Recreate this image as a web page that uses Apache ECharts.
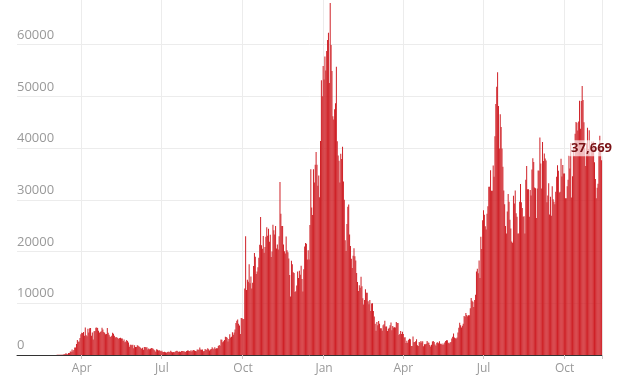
<!DOCTYPE html>
<html><head><meta charset="utf-8">
<script src="https://cdn.jsdelivr.net/npm/echarts@6/dist/echarts.min.js"></script>
<style>html,body{margin:0;padding:0;background:#fff}#c{width:625px;height:392px}</style>
</head><body><div id="c"></div>
<script>
// Daily cases, one array per month (first array starts on 2020-01-19)
const startDate = [2020, 0, 19];
const jan2020 = [0,0,0,0,0,0,0,0,0,0,0,0,2];
const feb2020 = [0,0,0,0,0,0,1,0,0,5,0,0,1,0,0,0,0,0,0,0,0,0,0,0,0,0,4,4,3];
const mar2020 = [13,4,11,34,30,48,43,67,48,61,74,130,200,340,250,150,400,410,680,650,1040,670,970,1430,1450,2130,2890,2550,2600,3300,4000];
const apr2020 = [4300,4250,4450,3740,5300,3800,3630,5100,4340,5150,5200,3700,4340,3000,4600,4620,5250,5300,5200,4670,4300,4450,4580,5250,4910,4460,4300,3990,4080,5200];
const may2020 = [4300,3900,3600,3500,3700,4300,4100,3700,3400,3500,3400,3300,3100,3300,3350,3200,3200,2700,3000,2450,2600,2900,2700,2400,1600,2000,2000,1900,2000,1300,1900];
const jun2020 = [1570,1570,1870,1800,1650,1560,1330,1200,1390,1000,1540,1540,1430,1510,1050,1280,1120,1220,1350,1300,1220,1000,880,650,1120,1000,890,900,820,690];
const jul2020 = [830,570,560,630,520,420,580,650,640,510,800,650,530,600,540,640,780,820,730,580,680,600,770,770,770,690,690,580,760,850,880];
const aug2020 = [760,740,940,670,890,950,870,760,730,1060,1000,1010,1440,1060,1020,1040,710,790,1180,1000,1030,1290,1110,850,1040,1180,1520,1270,1100,1500,1200];
const sep2020 = [1300,1300,1750,1940,1810,2990,2950,2460,2660,2920,3540,3500,3330,2620,3100,3990,3400,3540,4420,3900,4370,4930,6180,6630,6870,6040,5690,4040,7140,7110];
const oct2020 = [6910,6970,12870,22960,12590,14540,14160,17540,13860,15170,12870,13970,17230,19720,18980,15650,16170,16980,18800,21330,26690,21240,20530,23010,19790,20890,22890,24700,23070,24410,21920];
const nov2020 = [23250,18950,20020,25180,24140,23290,24960,20570,21350,20410,22950,33470,27300,24960,24960,21360,20050,19610,22920,20250,19880,18660,15450,11300,18210,17560,16020,15870,12160,12330];
const dec2020 = [13430,16170,14880,16300,15540,17270,14720,12280,16580,20960,21670,21500,18450,20260,18450,25160,35930,28510,27050,35930,33360,36800,39240,36800,32730,34690,30500,41390,53140,50020,55890];
const jan2021 = [53290,57730,54990,58780,60920,62320,52620,68053,59940,54940,46170,45530,47530,48680,55760,41350,38600,37540,33360,38910,37890,40260,33550,30000,22200,20090,25310,28680,29080,23280,21090];
const feb2021 = [18610,16840,19200,20630,19110,18260,15850,14100,12360,13490,13010,15140,13310,10970,9770,10630,12720,12060,12030,10410,9830,10640,8490,9940,9990,8520,7430,6040];
const mar2021 = [4710,6390,5770,6570,6040,5180,5180,4710,5770,5930,6610,5530,5530,4620,5090,5290,5760,6300,4800,5590,5310,5380,5340,6400,6190,6190,3860,4040,4650,4050,4480];
const apr2021 = [4050,3400,3420,2300,2760,2380,2960,3150,3030,1730,1730,3570,2470,2490,2670,3030,1880,1730,2520,2400,2730,2400,2680,1710,2060,2060,2170,2690,2410,2380];
const may2021 = [1950,1650,1980,2610,2700,2490,2050,1770,2360,2470,2280,2660,2190,2190,1930,2240,1980,2410,2700,2870,2830,2370,2240,2440,2490,3180,3540,4180,3400,3240,3170];
const jun2021 = [3380,4330,5270,6240,5770,5340,5680,6050,7540,7390,8130,7740,7490,7670,7670,9060,11010,10480,10320,9280,10630,11630,16140,16700,15810,18270,14880,22870,20480,26070];
const jul2021 = [27990,27130,24890,24250,27330,28770,32550,32550,35710,31770,31770,36660,34470,42300,48550,51870,54670,48160,39950,46560,44100,39910,36390,31800,29170,24950,23510,27730,31120,29620,26140];
const aug2021 = [24470,21950,21690,30790,29310,31810,27430,26750,23510,23510,29610,33070,29520,28440,26750,26850,23510,33900,36570,32060,32060,26750,31910,30840,35850,38050,37310,32410,32250,26480,32180];
const sep2021 = [35690,35620,42080,37010,32180,41190,37490,38980,38010,37620,29550,30830,33200,27170,30600,26910,32650,30140,29610,29170,31560,34460,36710,35620,31440,31560,37960,34530,36720,35080];
const oct2021 = [35080,30300,30300,32650,33870,38520,36060,41000,30440,34570,40220,38520,42780,45070,44930,43420,45140,49160,43740,49140,52010,49300,44990,39960,36570,40950,43940,39840,43470,38520,39960];
const nov2021 = [41280,40080,41300,37270,34030,30310,32320,33120,39330,42410,40380,37669];

const tickMonthLabels = {'01':'Jan','04':'Apr','07':'Jul','10':'Oct'};
const yMin = 0, yMax = 70000, yInterval = 10000;

const cases = [].concat(jan2020,feb2020,mar2020,apr2020,may2020,jun2020,jul2020,aug2020,sep2020,oct2020,nov2020,dec2020,
  jan2021,feb2021,mar2021,apr2021,may2021,jun2021,jul2021,aug2021,sep2021,oct2021,nov2021);

const t0 = Date.UTC(startDate[0], startDate[1], startDate[2]);
const dates = cases.map((_, i) => new Date(t0 + i * 864e5).toISOString().slice(0, 10));
const isTick = (idx) => { const s = dates[idx]; return s.slice(8) === '01' && (s.slice(5,7) in tickMonthLabels); };

const font = 'Open Sans';
const seriesData = cases.map((v, i) => i === cases.length - 1 ? {
  value: v,
  label: {
    show: true, position: 'top', distance: 4, offset: [-10, 0],
    color: '#7a1216', fontWeight: 'bold', fontSize: 13, fontFamily: font,
    backgroundColor: 'rgba(255,255,255,0.65)', padding: [2, 2, 1, 2],
    formatter: p => p.value.toLocaleString('en-US')
  }
} : v);

const chart = echarts.init(document.getElementById('c'), null, {renderer: 'canvas'});
chart.setOption({
  animation: false,
  backgroundColor: '#fff',
  grid: {left: 17, right: 23, top: -7, bottom: 37, containLabel: false, outerBoundsMode: 'none'},
  xAxis: {
    type: 'category', data: dates, boundaryGap: true,
    axisLine: {show: true, lineStyle: {color: '#333', width: 1}},
    axisTick: {show: true, interval: isTick, length: 4, lineStyle: {color: '#c8c8c8'}},
    axisLabel: {interval: isTick, color: '#999', fontSize: 12, fontFamily: font, margin: 8,
      formatter: v => tickMonthLabels[v.slice(5,7)] || ''},
    splitLine: {show: true, interval: isTick, lineStyle: {color: '#ececec', width: 1}}
  },
  yAxis: {
    type: 'value', min: yMin, max: yMax, interval: yInterval,
    axisLine: {show: false}, axisTick: {show: false},
    axisLabel: {inside: true, margin: 0, verticalAlign: 'bottom', color: '#999', fontSize: 13, fontFamily: font, padding: [0, 0, 3, 0],
      formatter: v => String(v)},
    splitLine: {lineStyle: {color: '#ececec', width: 1}}
  },
  series: [{
    type: 'bar', data: seriesData, barCategoryGap: '0%', itemStyle: {color: '#cf2127'},
    emphasis: {disabled: true}, clip: false
  }]
});
</script></body></html>
